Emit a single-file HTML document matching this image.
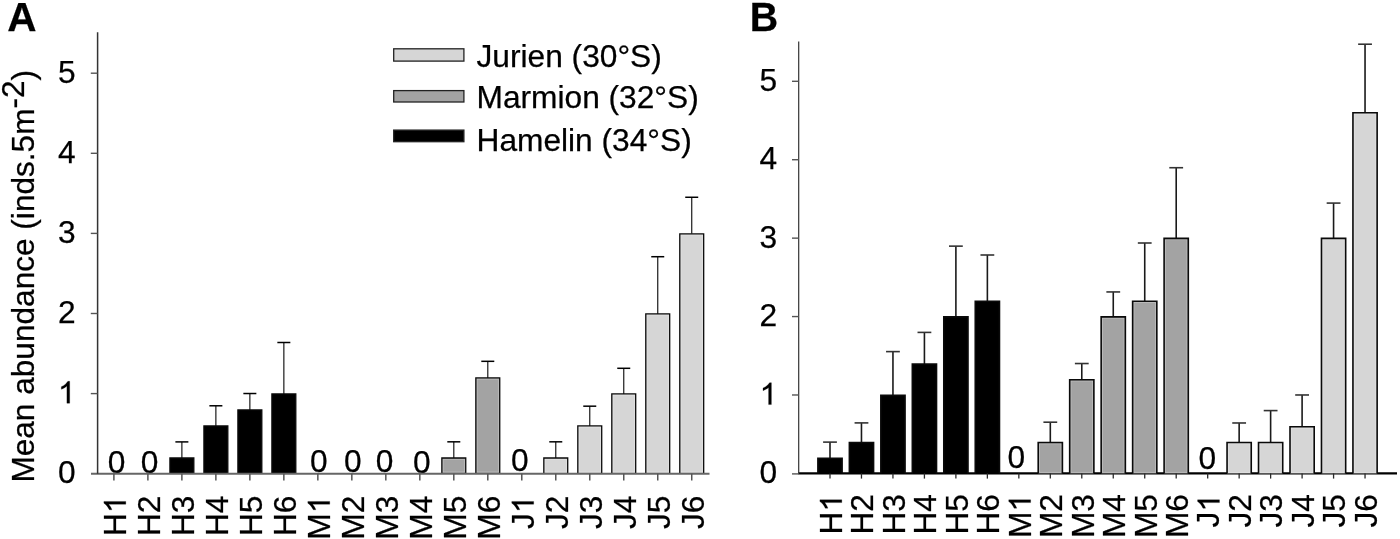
<!DOCTYPE html>
<html><head><meta charset="utf-8"><style>
html,body{margin:0;padding:0;background:#fff;width:1400px;height:539px;overflow:hidden}
svg{display:block;will-change:transform}
text{font-family:"Liberation Sans", sans-serif;fill:#000;stroke:#000;stroke-width:0.25px}
</style></head><body>
<svg width="1400" height="539" viewBox="0 0 1400 539">
<defs><path id="one" d="M763 0H583V1147Q518 1085 412.5 1023Q307 961 223 930V1104Q374 1175 487 1276Q600 1377 647 1466H763Z" fill="#000" stroke="#000" stroke-width="16.5"/></defs>
<rect width="1400" height="539" fill="#fff"/>
<text x="116.60" y="472.90" text-anchor="middle" font-size="31.7">0</text>
<text x="149.50" y="472.90" text-anchor="middle" font-size="31.7">0</text>
<line x1="181.88" y1="441.90" x2="181.88" y2="457.99" stroke="#1a1a1a" stroke-width="1.2"/>
<line x1="175.38" y1="441.90" x2="188.38" y2="441.90" stroke="#000" stroke-width="1.5"/>
<rect x="169.93" y="457.99" width="23.90" height="15.01" fill="#000000"/>
<path d="M169.93 473.70V457.99H193.83V473.70" fill="none" stroke="#0a0a0a" stroke-width="1.3"/>
<line x1="215.87" y1="405.78" x2="215.87" y2="425.97" stroke="#1a1a1a" stroke-width="1.2"/>
<line x1="209.37" y1="405.78" x2="222.37" y2="405.78" stroke="#000" stroke-width="1.5"/>
<rect x="203.92" y="425.97" width="23.90" height="47.03" fill="#000000"/>
<path d="M203.92 473.70V425.97H227.82V473.70" fill="none" stroke="#0a0a0a" stroke-width="1.3"/>
<line x1="249.86" y1="393.52" x2="249.86" y2="409.96" stroke="#1a1a1a" stroke-width="1.2"/>
<line x1="243.36" y1="393.52" x2="256.36" y2="393.52" stroke="#000" stroke-width="1.5"/>
<rect x="237.91" y="409.96" width="23.90" height="63.04" fill="#000000"/>
<path d="M237.91 473.70V409.96H261.81V473.70" fill="none" stroke="#0a0a0a" stroke-width="1.3"/>
<line x1="283.85" y1="342.50" x2="283.85" y2="393.95" stroke="#1a1a1a" stroke-width="1.2"/>
<line x1="277.35" y1="342.50" x2="290.35" y2="342.50" stroke="#000" stroke-width="1.5"/>
<rect x="271.90" y="393.95" width="23.90" height="79.05" fill="#000000"/>
<path d="M271.90 473.70V393.95H295.80V473.70" fill="none" stroke="#0a0a0a" stroke-width="1.3"/>
<text x="318.75" y="471.60" text-anchor="middle" font-size="31.7">0</text>
<text x="352.75" y="471.60" text-anchor="middle" font-size="31.7">0</text>
<text x="384.50" y="471.60" text-anchor="middle" font-size="31.7">0</text>
<text x="421.75" y="473.10" text-anchor="middle" font-size="31.7">0</text>
<line x1="453.80" y1="441.82" x2="453.80" y2="457.99" stroke="#1a1a1a" stroke-width="1.2"/>
<line x1="447.30" y1="441.82" x2="460.30" y2="441.82" stroke="#000" stroke-width="1.5"/>
<rect x="441.85" y="457.99" width="23.90" height="15.01" fill="#a3a3a3"/>
<path d="M443.15 472.00V459.29H464.45V472.00Z" fill="none" stroke="#fff" stroke-opacity="0.3" stroke-width="0.8"/>
<path d="M441.85 473.70V457.99H465.75V473.70" fill="none" stroke="#0a0a0a" stroke-width="1.3"/>
<line x1="487.79" y1="361.32" x2="487.79" y2="377.94" stroke="#1a1a1a" stroke-width="1.2"/>
<line x1="481.29" y1="361.32" x2="494.29" y2="361.32" stroke="#000" stroke-width="1.5"/>
<rect x="475.84" y="377.94" width="23.90" height="95.06" fill="#a3a3a3"/>
<path d="M477.14 472.00V379.24H498.44V472.00Z" fill="none" stroke="#fff" stroke-opacity="0.3" stroke-width="0.8"/>
<path d="M475.84 473.70V377.94H499.74V473.70" fill="none" stroke="#0a0a0a" stroke-width="1.3"/>
<text x="519.90" y="471.30" text-anchor="middle" font-size="31.7">0</text>
<line x1="555.77" y1="441.82" x2="555.77" y2="457.99" stroke="#1a1a1a" stroke-width="1.2"/>
<line x1="549.27" y1="441.82" x2="562.27" y2="441.82" stroke="#000" stroke-width="1.5"/>
<rect x="543.82" y="457.99" width="23.90" height="15.01" fill="#d6d6d6"/>
<path d="M545.12 472.00V459.29H566.42V472.00Z" fill="none" stroke="#fff" stroke-opacity="0.3" stroke-width="0.8"/>
<path d="M543.82 473.70V457.99H567.72V473.70" fill="none" stroke="#0a0a0a" stroke-width="1.3"/>
<line x1="589.76" y1="406.18" x2="589.76" y2="425.97" stroke="#1a1a1a" stroke-width="1.2"/>
<line x1="583.26" y1="406.18" x2="596.26" y2="406.18" stroke="#000" stroke-width="1.5"/>
<rect x="577.81" y="425.97" width="23.90" height="47.03" fill="#d6d6d6"/>
<path d="M579.11 472.00V427.27H600.41V472.00Z" fill="none" stroke="#fff" stroke-opacity="0.3" stroke-width="0.8"/>
<path d="M577.81 473.70V425.97H601.71V473.70" fill="none" stroke="#0a0a0a" stroke-width="1.3"/>
<line x1="623.75" y1="368.29" x2="623.75" y2="393.95" stroke="#1a1a1a" stroke-width="1.2"/>
<line x1="617.25" y1="368.29" x2="630.25" y2="368.29" stroke="#000" stroke-width="1.5"/>
<rect x="611.80" y="393.95" width="23.90" height="79.05" fill="#d6d6d6"/>
<path d="M613.10 472.00V395.25H634.40V472.00Z" fill="none" stroke="#fff" stroke-opacity="0.3" stroke-width="0.8"/>
<path d="M611.80 473.70V393.95H635.70V473.70" fill="none" stroke="#0a0a0a" stroke-width="1.3"/>
<line x1="657.74" y1="256.71" x2="657.74" y2="313.90" stroke="#1a1a1a" stroke-width="1.2"/>
<line x1="651.24" y1="256.71" x2="664.24" y2="256.71" stroke="#000" stroke-width="1.5"/>
<rect x="645.79" y="313.90" width="23.90" height="159.10" fill="#d6d6d6"/>
<path d="M647.09 472.00V315.20H668.39V472.00Z" fill="none" stroke="#fff" stroke-opacity="0.3" stroke-width="0.8"/>
<path d="M645.79 473.70V313.90H669.69V473.70" fill="none" stroke="#0a0a0a" stroke-width="1.3"/>
<line x1="691.73" y1="197.27" x2="691.73" y2="233.85" stroke="#1a1a1a" stroke-width="1.2"/>
<line x1="685.23" y1="197.27" x2="698.23" y2="197.27" stroke="#000" stroke-width="1.5"/>
<rect x="679.78" y="233.85" width="23.90" height="239.15" fill="#d6d6d6"/>
<path d="M681.08 472.00V235.15H702.38V472.00Z" fill="none" stroke="#fff" stroke-opacity="0.3" stroke-width="0.8"/>
<path d="M679.78 473.70V233.85H703.68V473.70" fill="none" stroke="#0a0a0a" stroke-width="1.3"/>
<line x1="91" y1="473.7" x2="709.5" y2="473.7" stroke="#666" stroke-width="2.0"/>
<line x1="97.6" y1="32.3" x2="97.6" y2="473.7" stroke="#333" stroke-width="1.5"/>
<text x="75.5" y="483.30" text-anchor="end" font-size="31.7">0</text>
<line x1="90.8" y1="393.60" x2="97.6" y2="393.60" stroke="#555" stroke-width="1.4"/>
<use href="#one" transform="translate(57.87,403.20) scale(0.01548,-0.01494)"/>
<line x1="90.8" y1="313.50" x2="97.6" y2="313.50" stroke="#555" stroke-width="1.4"/>
<text x="75.5" y="323.10" text-anchor="end" font-size="31.7">2</text>
<line x1="90.8" y1="233.40" x2="97.6" y2="233.40" stroke="#555" stroke-width="1.4"/>
<text x="75.5" y="243.00" text-anchor="end" font-size="31.7">3</text>
<line x1="90.8" y1="153.30" x2="97.6" y2="153.30" stroke="#555" stroke-width="1.4"/>
<text x="75.5" y="162.90" text-anchor="end" font-size="31.7">4</text>
<line x1="90.8" y1="73.20" x2="97.6" y2="73.20" stroke="#555" stroke-width="1.4"/>
<text x="75.5" y="82.80" text-anchor="end" font-size="31.7">5</text>
<line x1="113.90" y1="473.7" x2="113.90" y2="480.5" stroke="#555" stroke-width="1.5"/>
<g transform="translate(125.80,495.6) rotate(-90)"><text x="-17.63" text-anchor="end" font-size="31.7">H</text><use href="#one" transform="translate(-17.63,0) scale(0.01548,-0.01494)"/></g>
<line x1="147.89" y1="473.7" x2="147.89" y2="480.5" stroke="#555" stroke-width="1.5"/>
<text transform="translate(159.79,495.6) rotate(-90)" text-anchor="end" font-size="31.7">H2</text>
<line x1="181.88" y1="473.7" x2="181.88" y2="480.5" stroke="#555" stroke-width="1.5"/>
<text transform="translate(193.78,495.6) rotate(-90)" text-anchor="end" font-size="31.7">H3</text>
<line x1="215.87" y1="473.7" x2="215.87" y2="480.5" stroke="#555" stroke-width="1.5"/>
<text transform="translate(227.77,495.6) rotate(-90)" text-anchor="end" font-size="31.7">H4</text>
<line x1="249.86" y1="473.7" x2="249.86" y2="480.5" stroke="#555" stroke-width="1.5"/>
<text transform="translate(261.76,495.6) rotate(-90)" text-anchor="end" font-size="31.7">H5</text>
<line x1="283.85" y1="473.7" x2="283.85" y2="480.5" stroke="#555" stroke-width="1.5"/>
<text transform="translate(295.75,495.6) rotate(-90)" text-anchor="end" font-size="31.7">H6</text>
<line x1="317.84" y1="473.7" x2="317.84" y2="480.5" stroke="#555" stroke-width="1.5"/>
<g transform="translate(329.74,495.6) rotate(-90)"><text x="-17.63" text-anchor="end" font-size="31.7">M</text><use href="#one" transform="translate(-17.63,0) scale(0.01548,-0.01494)"/></g>
<line x1="351.83" y1="473.7" x2="351.83" y2="480.5" stroke="#555" stroke-width="1.5"/>
<text transform="translate(363.73,495.6) rotate(-90)" text-anchor="end" font-size="31.7">M2</text>
<line x1="385.82" y1="473.7" x2="385.82" y2="480.5" stroke="#555" stroke-width="1.5"/>
<text transform="translate(397.72,495.6) rotate(-90)" text-anchor="end" font-size="31.7">M3</text>
<line x1="419.81" y1="473.7" x2="419.81" y2="480.5" stroke="#555" stroke-width="1.5"/>
<text transform="translate(431.71,495.6) rotate(-90)" text-anchor="end" font-size="31.7">M4</text>
<line x1="453.80" y1="473.7" x2="453.80" y2="480.5" stroke="#555" stroke-width="1.5"/>
<text transform="translate(465.70,495.6) rotate(-90)" text-anchor="end" font-size="31.7">M5</text>
<line x1="487.79" y1="473.7" x2="487.79" y2="480.5" stroke="#555" stroke-width="1.5"/>
<text transform="translate(499.69,495.6) rotate(-90)" text-anchor="end" font-size="31.7">M6</text>
<line x1="521.78" y1="473.7" x2="521.78" y2="480.5" stroke="#555" stroke-width="1.5"/>
<g transform="translate(533.68,495.6) rotate(-90)"><text x="-17.63" text-anchor="end" font-size="31.7">J</text><use href="#one" transform="translate(-17.63,0) scale(0.01548,-0.01494)"/></g>
<line x1="555.77" y1="473.7" x2="555.77" y2="480.5" stroke="#555" stroke-width="1.5"/>
<text transform="translate(567.67,495.6) rotate(-90)" text-anchor="end" font-size="31.7">J2</text>
<line x1="589.76" y1="473.7" x2="589.76" y2="480.5" stroke="#555" stroke-width="1.5"/>
<text transform="translate(601.66,495.6) rotate(-90)" text-anchor="end" font-size="31.7">J3</text>
<line x1="623.75" y1="473.7" x2="623.75" y2="480.5" stroke="#555" stroke-width="1.5"/>
<text transform="translate(635.65,495.6) rotate(-90)" text-anchor="end" font-size="31.7">J4</text>
<line x1="657.74" y1="473.7" x2="657.74" y2="480.5" stroke="#555" stroke-width="1.5"/>
<text transform="translate(669.64,495.6) rotate(-90)" text-anchor="end" font-size="31.7">J5</text>
<line x1="691.73" y1="473.7" x2="691.73" y2="480.5" stroke="#555" stroke-width="1.5"/>
<text transform="translate(703.63,495.6) rotate(-90)" text-anchor="end" font-size="31.7">J6</text>
<line x1="798.2" y1="473.4" x2="1397" y2="473.4" stroke="#000" stroke-width="2.3"/>
<line x1="830.00" y1="442.11" x2="830.00" y2="458.20" stroke="#1a1a1a" stroke-width="1.6"/>
<line x1="823.10" y1="442.11" x2="836.90" y2="442.11" stroke="#333" stroke-width="1.6"/>
<rect x="817.90" y="458.20" width="24.20" height="15.20" fill="#000000"/>
<path d="M817.90 473.40V458.20H842.10V473.40" fill="none" stroke="#0a0a0a" stroke-width="1.6"/>
<line x1="861.47" y1="422.90" x2="861.47" y2="442.50" stroke="#1a1a1a" stroke-width="1.6"/>
<line x1="854.57" y1="422.90" x2="868.37" y2="422.90" stroke="#333" stroke-width="1.6"/>
<rect x="849.37" y="442.50" width="24.20" height="30.90" fill="#000000"/>
<path d="M849.37 473.40V442.50H873.57V473.40" fill="none" stroke="#0a0a0a" stroke-width="1.6"/>
<line x1="892.95" y1="351.61" x2="892.95" y2="395.40" stroke="#1a1a1a" stroke-width="1.6"/>
<line x1="886.05" y1="351.61" x2="899.85" y2="351.61" stroke="#333" stroke-width="1.6"/>
<rect x="880.85" y="395.40" width="24.20" height="78.00" fill="#000000"/>
<path d="M880.85 473.40V395.40H905.05V473.40" fill="none" stroke="#0a0a0a" stroke-width="1.6"/>
<line x1="924.42" y1="332.40" x2="924.42" y2="364.00" stroke="#1a1a1a" stroke-width="1.6"/>
<line x1="917.52" y1="332.40" x2="931.32" y2="332.40" stroke="#333" stroke-width="1.6"/>
<rect x="912.32" y="364.00" width="24.20" height="109.40" fill="#000000"/>
<path d="M912.32 473.40V364.00H936.52V473.40" fill="none" stroke="#0a0a0a" stroke-width="1.6"/>
<line x1="955.89" y1="246.14" x2="955.89" y2="316.90" stroke="#1a1a1a" stroke-width="1.6"/>
<line x1="948.99" y1="246.14" x2="962.79" y2="246.14" stroke="#333" stroke-width="1.6"/>
<rect x="943.79" y="316.90" width="24.20" height="156.50" fill="#000000"/>
<path d="M943.79 473.40V316.90H967.99V473.40" fill="none" stroke="#0a0a0a" stroke-width="1.6"/>
<line x1="987.37" y1="255.00" x2="987.37" y2="301.20" stroke="#1a1a1a" stroke-width="1.6"/>
<line x1="980.47" y1="255.00" x2="994.26" y2="255.00" stroke="#333" stroke-width="1.6"/>
<rect x="975.26" y="301.20" width="24.20" height="172.20" fill="#000000"/>
<path d="M975.26 473.40V301.20H999.47V473.40" fill="none" stroke="#0a0a0a" stroke-width="1.6"/>
<text x="1016.25" y="467.80" text-anchor="middle" font-size="31.7">0</text>
<line x1="1050.31" y1="422.19" x2="1050.31" y2="442.50" stroke="#1a1a1a" stroke-width="1.6"/>
<line x1="1043.41" y1="422.19" x2="1057.21" y2="422.19" stroke="#333" stroke-width="1.6"/>
<rect x="1038.21" y="442.50" width="24.20" height="30.90" fill="#a3a3a3"/>
<path d="M1039.51 472.40V443.80H1061.11V472.40Z" fill="none" stroke="#fff" stroke-opacity="0.3" stroke-width="0.8"/>
<path d="M1038.21 473.40V442.50H1062.41V473.40" fill="none" stroke="#0a0a0a" stroke-width="1.6"/>
<line x1="1081.78" y1="363.53" x2="1081.78" y2="379.70" stroke="#1a1a1a" stroke-width="1.6"/>
<line x1="1074.88" y1="363.53" x2="1088.68" y2="363.53" stroke="#333" stroke-width="1.6"/>
<rect x="1069.68" y="379.70" width="24.20" height="93.70" fill="#a3a3a3"/>
<path d="M1070.98 472.40V381.00H1092.58V472.40Z" fill="none" stroke="#fff" stroke-opacity="0.3" stroke-width="0.8"/>
<path d="M1069.68 473.40V379.70H1093.88V473.40" fill="none" stroke="#0a0a0a" stroke-width="1.6"/>
<line x1="1113.26" y1="291.94" x2="1113.26" y2="316.90" stroke="#1a1a1a" stroke-width="1.6"/>
<line x1="1106.36" y1="291.94" x2="1120.16" y2="291.94" stroke="#333" stroke-width="1.6"/>
<rect x="1101.16" y="316.90" width="24.20" height="156.50" fill="#a3a3a3"/>
<path d="M1102.46 472.40V318.20H1124.06V472.40Z" fill="none" stroke="#fff" stroke-opacity="0.3" stroke-width="0.8"/>
<path d="M1101.16 473.40V316.90H1125.36V473.40" fill="none" stroke="#0a0a0a" stroke-width="1.6"/>
<line x1="1144.73" y1="243.00" x2="1144.73" y2="301.20" stroke="#1a1a1a" stroke-width="1.6"/>
<line x1="1137.83" y1="243.00" x2="1151.63" y2="243.00" stroke="#333" stroke-width="1.6"/>
<rect x="1132.63" y="301.20" width="24.20" height="172.20" fill="#a3a3a3"/>
<path d="M1133.93 472.40V302.50H1155.53V472.40Z" fill="none" stroke="#fff" stroke-opacity="0.3" stroke-width="0.8"/>
<path d="M1132.63 473.40V301.20H1156.83V473.40" fill="none" stroke="#0a0a0a" stroke-width="1.6"/>
<line x1="1176.20" y1="167.72" x2="1176.20" y2="238.40" stroke="#1a1a1a" stroke-width="1.6"/>
<line x1="1169.30" y1="167.72" x2="1183.10" y2="167.72" stroke="#333" stroke-width="1.6"/>
<rect x="1164.10" y="238.40" width="24.20" height="235.00" fill="#a3a3a3"/>
<path d="M1165.40 472.40V239.70H1187.00V472.40Z" fill="none" stroke="#fff" stroke-opacity="0.3" stroke-width="0.8"/>
<path d="M1164.10 473.40V238.40H1188.30V473.40" fill="none" stroke="#0a0a0a" stroke-width="1.6"/>
<text x="1207.20" y="468.80" text-anchor="middle" font-size="31.7">0</text>
<line x1="1239.15" y1="422.98" x2="1239.15" y2="442.50" stroke="#1a1a1a" stroke-width="1.6"/>
<line x1="1232.25" y1="422.98" x2="1246.05" y2="422.98" stroke="#333" stroke-width="1.6"/>
<rect x="1227.05" y="442.50" width="24.20" height="30.90" fill="#d6d6d6"/>
<path d="M1228.35 472.40V443.80H1249.95V472.40Z" fill="none" stroke="#fff" stroke-opacity="0.3" stroke-width="0.8"/>
<path d="M1227.05 473.40V442.50H1251.25V473.40" fill="none" stroke="#0a0a0a" stroke-width="1.6"/>
<line x1="1270.62" y1="410.59" x2="1270.62" y2="442.50" stroke="#1a1a1a" stroke-width="1.6"/>
<line x1="1263.72" y1="410.59" x2="1277.52" y2="410.59" stroke="#333" stroke-width="1.6"/>
<rect x="1258.52" y="442.50" width="24.20" height="30.90" fill="#d6d6d6"/>
<path d="M1259.82 472.40V443.80H1281.42V472.40Z" fill="none" stroke="#fff" stroke-opacity="0.3" stroke-width="0.8"/>
<path d="M1258.52 473.40V442.50H1282.72V473.40" fill="none" stroke="#0a0a0a" stroke-width="1.6"/>
<line x1="1302.10" y1="394.98" x2="1302.10" y2="426.80" stroke="#1a1a1a" stroke-width="1.6"/>
<line x1="1295.19" y1="394.98" x2="1309.00" y2="394.98" stroke="#333" stroke-width="1.6"/>
<rect x="1290.00" y="426.80" width="24.20" height="46.60" fill="#d6d6d6"/>
<path d="M1291.30 472.40V428.10H1312.90V472.40Z" fill="none" stroke="#fff" stroke-opacity="0.3" stroke-width="0.8"/>
<path d="M1290.00 473.40V426.80H1314.20V473.40" fill="none" stroke="#0a0a0a" stroke-width="1.6"/>
<line x1="1333.57" y1="203.09" x2="1333.57" y2="238.40" stroke="#1a1a1a" stroke-width="1.6"/>
<line x1="1326.67" y1="203.09" x2="1340.47" y2="203.09" stroke="#333" stroke-width="1.6"/>
<rect x="1321.47" y="238.40" width="24.20" height="235.00" fill="#d6d6d6"/>
<path d="M1322.77 472.40V239.70H1344.37V472.40Z" fill="none" stroke="#fff" stroke-opacity="0.3" stroke-width="0.8"/>
<path d="M1321.47 473.40V238.40H1345.67V473.40" fill="none" stroke="#0a0a0a" stroke-width="1.6"/>
<line x1="1365.04" y1="44.21" x2="1365.04" y2="112.80" stroke="#1a1a1a" stroke-width="1.6"/>
<line x1="1358.14" y1="44.21" x2="1371.94" y2="44.21" stroke="#333" stroke-width="1.6"/>
<rect x="1352.94" y="112.80" width="24.20" height="360.60" fill="#d6d6d6"/>
<path d="M1354.24 472.40V114.10H1375.84V472.40Z" fill="none" stroke="#fff" stroke-opacity="0.3" stroke-width="0.8"/>
<path d="M1352.94 473.40V112.80H1377.14V473.40" fill="none" stroke="#0a0a0a" stroke-width="1.6"/>
<line x1="798.7" y1="41.4" x2="798.7" y2="473.4" stroke="#333" stroke-width="1.2"/>
<line x1="792" y1="473.90" x2="798.7" y2="473.90" stroke="#555" stroke-width="1.4"/>
<text x="777.2" y="483.00" text-anchor="end" font-size="31.7">0</text>
<line x1="792" y1="394.98" x2="798.7" y2="394.98" stroke="#555" stroke-width="1.4"/>
<use href="#one" transform="translate(759.57,404.58) scale(0.01548,-0.01494)"/>
<line x1="792" y1="316.56" x2="798.7" y2="316.56" stroke="#555" stroke-width="1.4"/>
<text x="777.2" y="326.16" text-anchor="end" font-size="31.7">2</text>
<line x1="792" y1="238.14" x2="798.7" y2="238.14" stroke="#555" stroke-width="1.4"/>
<text x="777.2" y="247.74" text-anchor="end" font-size="31.7">3</text>
<line x1="792" y1="159.72" x2="798.7" y2="159.72" stroke="#555" stroke-width="1.4"/>
<text x="777.2" y="169.32" text-anchor="end" font-size="31.7">4</text>
<line x1="792" y1="81.30" x2="798.7" y2="81.30" stroke="#555" stroke-width="1.4"/>
<text x="777.2" y="90.90" text-anchor="end" font-size="31.7">5</text>
<line x1="830.00" y1="473.4" x2="830.00" y2="478.6" stroke="#2a2a2a" stroke-width="1.3"/>
<g transform="translate(841.80,494.0) rotate(-90)"><text x="-17.63" text-anchor="end" font-size="31.7">H</text><use href="#one" transform="translate(-17.63,0) scale(0.01548,-0.01494)"/></g>
<line x1="861.47" y1="473.4" x2="861.47" y2="478.6" stroke="#2a2a2a" stroke-width="1.3"/>
<text transform="translate(873.27,494.0) rotate(-90)" text-anchor="end" font-size="31.7">H2</text>
<line x1="892.95" y1="473.4" x2="892.95" y2="478.6" stroke="#2a2a2a" stroke-width="1.3"/>
<text transform="translate(904.75,494.0) rotate(-90)" text-anchor="end" font-size="31.7">H3</text>
<line x1="924.42" y1="473.4" x2="924.42" y2="478.6" stroke="#2a2a2a" stroke-width="1.3"/>
<text transform="translate(936.22,494.0) rotate(-90)" text-anchor="end" font-size="31.7">H4</text>
<line x1="955.89" y1="473.4" x2="955.89" y2="478.6" stroke="#2a2a2a" stroke-width="1.3"/>
<text transform="translate(967.69,494.0) rotate(-90)" text-anchor="end" font-size="31.7">H5</text>
<line x1="987.37" y1="473.4" x2="987.37" y2="478.6" stroke="#2a2a2a" stroke-width="1.3"/>
<text transform="translate(999.16,494.0) rotate(-90)" text-anchor="end" font-size="31.7">H6</text>
<line x1="1018.84" y1="473.4" x2="1018.84" y2="478.6" stroke="#2a2a2a" stroke-width="1.3"/>
<g transform="translate(1030.64,494.0) rotate(-90)"><text x="-17.63" text-anchor="end" font-size="31.7">M</text><use href="#one" transform="translate(-17.63,0) scale(0.01548,-0.01494)"/></g>
<line x1="1050.31" y1="473.4" x2="1050.31" y2="478.6" stroke="#2a2a2a" stroke-width="1.3"/>
<text transform="translate(1062.11,494.0) rotate(-90)" text-anchor="end" font-size="31.7">M2</text>
<line x1="1081.78" y1="473.4" x2="1081.78" y2="478.6" stroke="#2a2a2a" stroke-width="1.3"/>
<text transform="translate(1093.58,494.0) rotate(-90)" text-anchor="end" font-size="31.7">M3</text>
<line x1="1113.26" y1="473.4" x2="1113.26" y2="478.6" stroke="#2a2a2a" stroke-width="1.3"/>
<text transform="translate(1125.06,494.0) rotate(-90)" text-anchor="end" font-size="31.7">M4</text>
<line x1="1144.73" y1="473.4" x2="1144.73" y2="478.6" stroke="#2a2a2a" stroke-width="1.3"/>
<text transform="translate(1156.53,494.0) rotate(-90)" text-anchor="end" font-size="31.7">M5</text>
<line x1="1176.20" y1="473.4" x2="1176.20" y2="478.6" stroke="#2a2a2a" stroke-width="1.3"/>
<text transform="translate(1188.00,494.0) rotate(-90)" text-anchor="end" font-size="31.7">M6</text>
<line x1="1207.68" y1="473.4" x2="1207.68" y2="478.6" stroke="#2a2a2a" stroke-width="1.3"/>
<g transform="translate(1219.48,494.0) rotate(-90)"><text x="-17.63" text-anchor="end" font-size="31.7">J</text><use href="#one" transform="translate(-17.63,0) scale(0.01548,-0.01494)"/></g>
<line x1="1239.15" y1="473.4" x2="1239.15" y2="478.6" stroke="#2a2a2a" stroke-width="1.3"/>
<text transform="translate(1250.95,494.0) rotate(-90)" text-anchor="end" font-size="31.7">J2</text>
<line x1="1270.62" y1="473.4" x2="1270.62" y2="478.6" stroke="#2a2a2a" stroke-width="1.3"/>
<text transform="translate(1282.42,494.0) rotate(-90)" text-anchor="end" font-size="31.7">J3</text>
<line x1="1302.10" y1="473.4" x2="1302.10" y2="478.6" stroke="#2a2a2a" stroke-width="1.3"/>
<text transform="translate(1313.89,494.0) rotate(-90)" text-anchor="end" font-size="31.7">J4</text>
<line x1="1333.57" y1="473.4" x2="1333.57" y2="478.6" stroke="#2a2a2a" stroke-width="1.3"/>
<text transform="translate(1345.37,494.0) rotate(-90)" text-anchor="end" font-size="31.7">J5</text>
<line x1="1365.04" y1="473.4" x2="1365.04" y2="478.6" stroke="#2a2a2a" stroke-width="1.3"/>
<text transform="translate(1376.84,494.0) rotate(-90)" text-anchor="end" font-size="31.7">J6</text>
<text transform="translate(33.9,482.6) rotate(-90) scale(0.997,1)" font-size="31.7">Mean abundance (inds.5m<tspan dy="-9.7">-2</tspan><tspan dy="9.7">)</tspan></text>
<text x="7.3" y="31.1" font-size="40.6" font-weight="bold">A</text>
<text transform="translate(749.8,30.9) scale(0.95,1)" font-size="41.5" font-weight="bold">B</text>
<rect x="393.7" y="48.800000000000004" width="70.2" height="12.30" fill="#d6d6d6" stroke="#222" stroke-width="1.3"/>
<text x="476.5" y="66.9" font-size="31.7">Jurien (30°S)</text>
<rect x="393.7" y="90.6" width="70.2" height="11.40" fill="#a3a3a3" stroke="#222" stroke-width="1.3"/>
<text x="476.5" y="107.8" font-size="31.7">Marmion (32°S)</text>
<rect x="393.7" y="130.1" width="70.2" height="11.60" fill="#000000" stroke="#222" stroke-width="1.3"/>
<text x="476.5" y="150.5" font-size="31.7">Hamelin (34°S)</text>
</svg>
</body></html>
